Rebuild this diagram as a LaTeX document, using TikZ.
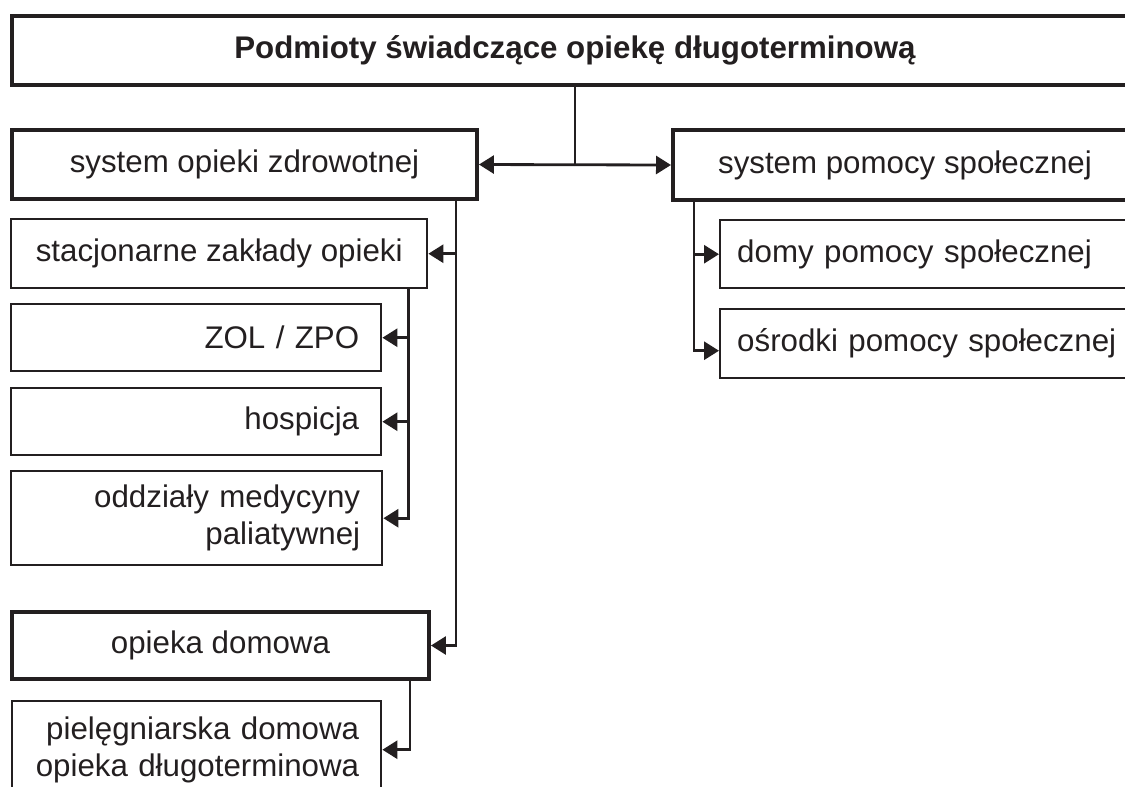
\documentclass[tikz,border=0pt]{standalone}
\usepackage{fontspec}
\usepackage{tikz}
\usetikzlibrary{arrows.meta, positioning, calc}
\setmainfont{Liberation Sans}
\definecolor{inkblack}{HTML}{231F20}

\begin{document}
\begin{tikzpicture}[
    x=0.02cm, y=-0.02cm,
    every node/.style={text=inkblack, font=\fontsize{17.8pt}{21pt}\selectfont},
    box/.style={rectangle, draw=inkblack, line width=1.4pt, anchor=north west, inner sep=0pt, align=center},
    mainbox/.style={box, line width=2.3pt},
    rightbox/.style={box, inner xsep=0.44cm, align=right},
    leftbox/.style={box, inner xsep=0.34cm, align=left},
    link/.style={draw=inkblack, line width=1.6pt},
    arrow/.style={link, -{Triangle[length=0.3cm, width=0.36cm]}}
]
\useasboundingbox (0,0) rectangle (1125,787);
\clip (0,0) rectangle (1125,787);

% top level
\node[mainbox, minimum width=22.52cm, minimum height=1.38cm, font=\bfseries\fontsize{17.8pt}{21pt}\selectfont] (title) at (10,14)
    {Podmioty świadczące opiekę długoterminową};

\node[mainbox, minimum width=9.3cm, minimum height=1.38cm] (healthsys) at (10,128) {system opieki zdrowotnej};
\node[mainbox, minimum width=9.28cm, minimum height=1.4cm] (socialsys) at (671,128) {system pomocy społecznej};

% health care branch
\node[box, minimum width=8.32cm, minimum height=1.38cm] (inpatient) at (10,218) {stacjonarne zakłady opieki};
\node[rightbox, text width=6.52cm, minimum height=1.34cm] (zol) at (10,303) {ZOL / ZPO};
\node[rightbox, text width=6.52cm, minimum height=1.34cm] (hospice) at (10,387) {hospicja};
\node[rightbox, text width=6.54cm, minimum height=1.88cm] (palliative) at (10,470) {oddziały medycyny\\paliatywnej};
\node[mainbox, minimum width=8.34cm, minimum height=1.34cm] (homecare) at (10,610) {opieka domowa};
\node[rightbox, text width=6.5cm, minimum height=1.94cm] (nursing) at (11,700) {pielęgniarska domowa\\opieka długoterminowa};

% social care branch
\node[leftbox, text width=8.52cm, minimum height=1.36cm] (dps) at (719,219) {domy pomocy społecznej};
\node[leftbox, text width=8.52cm, minimum height=1.38cm] (ops) at (719,308) {ośrodki pomocy społecznej};

% connectors
\coordinate (split) at ($(healthsys.east)!0.5!(socialsys.west)$);
\draw[link] (title.south -| split) -- (split);
\draw[arrow] (split) -- (healthsys.east);
\draw[arrow] (split) -- (socialsys.west);

\draw[arrow] ([xshift=-0.46cm]healthsys.south east) |- (inpatient.east);
\draw[arrow] ([xshift=-0.46cm]healthsys.south east) |- (homecare.east);

\draw[arrow] ([xshift=-0.4cm]inpatient.south east) |- (zol.east);
\draw[arrow] ([xshift=-0.4cm]inpatient.south east) |- (hospice.east);
\draw[arrow] ([xshift=-0.4cm]inpatient.south east) |- (palliative.east);

\draw[arrow] ([xshift=-0.42cm]homecare.south east) |- (nursing.east);

\draw[arrow] ([xshift=0.46cm]socialsys.south west) |- (dps.west);
\draw[arrow] ([xshift=0.46cm]socialsys.south west) |- ([yshift=-0.14cm]ops.west);

\end{tikzpicture}
\end{document}
